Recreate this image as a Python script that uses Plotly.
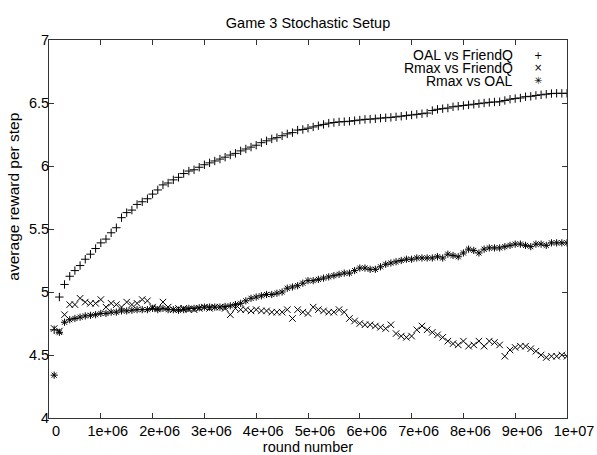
import plotly.graph_objects as go

# ---- data ----
rounds = list(range(100000, 10000001, 100000))

oal_vs_friendq = [
    4.70, 4.96, 5.06, 5.125, 5.17, 5.21, 5.26, 5.30, 5.345, 5.39,
    5.42, 5.47, 5.51, 5.59, 5.63, 5.65, 5.695, 5.716, 5.74, 5.777,
    5.81, 5.85, 5.865, 5.89, 5.91, 5.94, 5.96, 5.97, 5.99, 6.01,
    6.025, 6.04, 6.055, 6.07, 6.087, 6.10, 6.12, 6.135, 6.15, 6.165,
    6.185, 6.20, 6.215, 6.225, 6.24, 6.255, 6.265, 6.285, 6.29, 6.30,
    6.31, 6.32, 6.33, 6.34, 6.345, 6.35, 6.352, 6.355, 6.36, 6.365,
    6.37, 6.372, 6.375, 6.38, 6.383, 6.386, 6.39, 6.395, 6.40, 6.405,
    6.41, 6.415, 6.42, 6.44, 6.45, 6.455, 6.46, 6.47, 6.475, 6.48,
    6.485, 6.49, 6.495, 6.50, 6.505, 6.508, 6.51, 6.52, 6.53, 6.535,
    6.54, 6.55, 6.553, 6.56, 6.565, 6.57, 6.575, 6.577, 6.577, 6.577,
]

rmax_vs_friendq = [
    4.71, 4.69, 4.82, 4.90, 4.90, 4.95, 4.92, 4.91, 4.91, 4.94,
    4.88, 4.91, 4.90, 4.88, 4.92, 4.90, 4.91, 4.94, 4.93, 4.88,
    4.87, 4.92, 4.88, 4.86, 4.87, 4.87, 4.86, 4.86, 4.87, 4.88,
    4.87, 4.88, 4.88, 4.87, 4.82, 4.87, 4.86, 4.86, 4.85, 4.86,
    4.85, 4.85, 4.84, 4.84, 4.84, 4.86, 4.79, 4.86, 4.84, 4.83,
    4.88, 4.86, 4.85, 4.84, 4.84, 4.86, 4.84, 4.79, 4.77, 4.75,
    4.74, 4.74, 4.73, 4.72, 4.71, 4.74, 4.67, 4.65, 4.64, 4.65,
    4.70, 4.73, 4.70, 4.68, 4.66, 4.64, 4.61, 4.59, 4.58, 4.61,
    4.57, 4.58, 4.61, 4.57, 4.61, 4.60, 4.58, 4.49, 4.54, 4.56,
    4.57, 4.57, 4.55, 4.53, 4.50, 4.48, 4.49, 4.49, 4.50, 4.49,
]

rmax_vs_oal = [
    4.34, 4.68, 4.76, 4.78, 4.79, 4.80, 4.81, 4.815, 4.82, 4.83,
    4.83, 4.84, 4.84, 4.85, 4.85, 4.855, 4.86, 4.86, 4.86, 4.87,
    4.86, 4.87, 4.86, 4.86, 4.855, 4.86, 4.87, 4.87, 4.875, 4.88,
    4.88, 4.88, 4.88, 4.885, 4.89, 4.90, 4.91, 4.93, 4.95, 4.96,
    4.97, 4.98, 4.98, 4.99, 5.00, 5.03, 5.04, 5.05, 5.07, 5.09,
    5.09, 5.10, 5.11, 5.12, 5.13, 5.14, 5.15, 5.15, 5.17, 5.19,
    5.19, 5.18, 5.18, 5.20, 5.22, 5.23, 5.24, 5.25, 5.26, 5.26,
    5.27, 5.27, 5.27, 5.27, 5.28, 5.27, 5.30, 5.29, 5.28, 5.31,
    5.34, 5.33, 5.31, 5.34, 5.35, 5.35, 5.35, 5.36, 5.37, 5.38,
    5.38, 5.37, 5.36, 5.38, 5.38, 5.37, 5.39, 5.39, 5.39, 5.39,
]

series_names = ["OAL vs FriendQ", "Rmax vs FriendQ", "Rmax vs OAL"]
legend_glyphs = ["+", "\u00d7", "\u2733"]

x_tick_vals = [0, 1000000, 2000000, 3000000, 4000000, 5000000,
               6000000, 7000000, 8000000, 9000000, 10000000]
x_tick_text = ["0", "1e+06", "2e+06", "3e+06", "4e+06", "5e+06",
               "6e+06", "7e+06", "8e+06", "9e+06", "1e+07"]
y_tick_vals = [4, 4.5, 5, 5.5, 6, 6.5, 7]
y_tick_text = ["4", "4.5", "5", "5.5", "6", "6.5", "7"]

# ---- figure ----
FONT = "Liberation Sans, Arial, Helvetica, sans-serif"
FS = 14.5
symbols = ["cross-thin-open", "x-thin-open", "asterisk-open"]
sizes = [6, 6.5, 6]
series = [oal_vs_friendq, rmax_vs_friendq, rmax_vs_oal]

fig = go.Figure()
for name, ys, sym, sz in zip(series_names, series, symbols, sizes):
    fig.add_trace(go.Scatter(
        x=rounds, y=ys, mode="markers", name=name,
        marker=dict(symbol=sym, size=sz, color="black",
                    line=dict(width=1, color="black")),
        showlegend=False,
    ))

axis_common = dict(
    showline=True, linecolor="#333", linewidth=1, mirror="ticks",
    ticks="inside", ticklen=5, tickcolor="#333", tickwidth=1,
    showgrid=False, zeroline=False, automargin=False,
    tickfont=dict(family=FONT, size=FS, color="black"),
)

fig.update_layout(
    template="none",
    width=597, height=455,
    margin=dict(l=49, r=30, t=40, b=37),
    paper_bgcolor="white", plot_bgcolor="white",
    font=dict(family=FONT, size=FS, color="black"),
    title=dict(text="Game 3 Stochastic Setup", x=0.516, xanchor="center",
               y=1 - 23 / 455, yanchor="middle",
               font=dict(family=FONT, size=FS, color="black")),
    xaxis=dict(range=[0, 10000000], tickvals=x_tick_vals, ticktext=x_tick_text,
               ticklabelshift=7,
               title=dict(text="round number", standoff=1,
                          font=dict(family=FONT, size=FS)),
               **axis_common),
    yaxis=dict(range=[4, 7], tickvals=y_tick_vals, ticktext=y_tick_text,
               ticklabelstandoff=-4,
               **axis_common),
)

# y-axis title (placed as in the reference, shifted toward the top)
fig.add_annotation(x=-0.068, y=0.585, xref="paper", yref="paper",
                   text="average reward per step", textangle=-90,
                   showarrow=False, xanchor="center", yanchor="middle",
                   font=dict(family=FONT, size=15.5, color="black"))

# legend: right-aligned labels with key glyphs to the right (gnuplot style)
legend_rows_y = [0.960, 0.926, 0.892]
for name, glyph, yy in zip(series_names, legend_glyphs, legend_rows_y):
    fig.add_annotation(x=0.90, y=yy, xref="paper", yref="paper",
                       text=name, showarrow=False, xanchor="right",
                       yanchor="middle",
                       font=dict(family=FONT, size=14, color="black"))
    fig.add_annotation(x=0.944, y=yy, xref="paper", yref="paper",
                       text=glyph, showarrow=False, xanchor="center",
                       yanchor="middle",
                       font=dict(family="DejaVu Sans, sans-serif", size=10,
                                 color="black"))

fig.write_html("out.html")
